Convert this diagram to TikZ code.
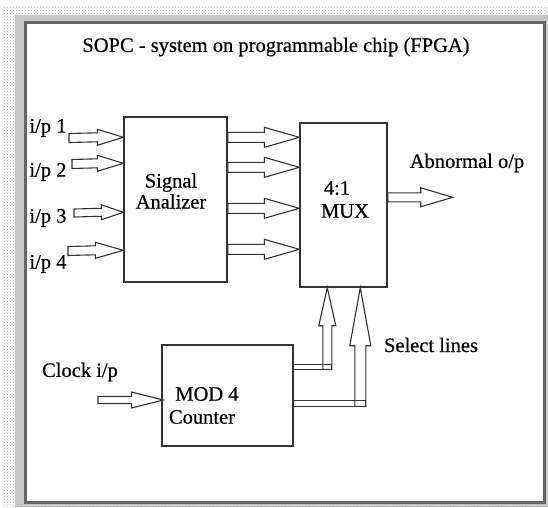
\documentclass[tikz,border=0pt]{standalone}
\usepackage{fontspec}
\setmainfont[FakeBold=0.5]{Liberation Serif}
\usetikzlibrary{calc,patterns}
\newcommand{\harrow}[5]{%
  \draw[blk] ($(#1)+(0,-#3)$) -- ($(#2)+(-#5,-#3)$) -- ($(#2)+(-#5,-#4)$) -- (#2)
    -- ($(#2)+(-#5,#4)$) -- ($(#2)+(-#5,#3)$) -- ($(#1)+(0,#3)$) -- cycle;}
% vertical (upward) arrow: #1 bottom, #2 tip, #3 shaft half, #4 head half, #5 head length
\newcommand{\varrow}[5]{%
  \draw[blk] ($(#1)+(-#3,0)$) -- ($(#2)+(-#3,#5)$) -- ($(#2)+(-#4,#5)$) -- (#2)
    -- ($(#2)+(#4,#5)$) -- ($(#2)+(#3,#5)$) -- ($(#1)+(#3,0)$) -- cycle;}
\begin{document}
\begin{tikzpicture}[x=1pt,y=-1pt,
  box/.style={draw=black!80,line width=1.4pt,minimum width=#1},
  blk/.style={draw=black!80,line width=1.1pt,line join=miter},
  lbl/.style={inner sep=0pt,text=black},
  every node/.style={font=\fontsize{20.5}{24}\selectfont}]
\useasboundingbox (0,0) rectangle (548,507);
% frame
\fill[pattern=crosshatch dots,pattern color=gray!60] (2,6) rectangle (548,507);
\fill[gray!45] (15,15) rectangle (548,507);
\fill[white] (25,22) rectangle (544,502);
\draw[black!60,line width=3pt] (25,22) rectangle (544,502);

\node[lbl] (title) at (276,47) {SOPC - system on programmable chip (FPGA)};

% blocks
\node[box=103pt,minimum height=165pt] (sa) at (175.5,199.5) {};
\node[lbl,align=center] (satext) at (171,191) {Signal\\[-3pt]Analizer};
\node[box=87pt,minimum height=164pt] (mux) at (343.5,205) {};
\node[lbl] (muxa) at (337,188) {4:1};
\node[lbl] (muxb) at (345,211) {MUX};
\node[box=131pt,minimum height=101pt] (cnt) at (227.5,395.5) {};
\node[lbl] (cnta) at (207,394) {MOD 4};
\node[lbl] (cntb) at (202,417) {Counter};

% labels
\node[lbl] (l1) at (48,128) {i/p 1};
\node[lbl] (l2) at (48,172) {i/p 2};
\node[lbl] (l3) at (48,218) {i/p 3};
\node[lbl] (l4) at (48,264) {i/p 4};
\node[lbl] (lab) at (467,163) {Abnormal o/p};
\node[lbl] (lsel) at (431,345) {Select lines};
\node[lbl] (lclk) at (80,372) {Clock i/p};

% input arrows
\coordinate (i1) at (69,138);  \coordinate (e1) at ($(sa.north west)+(0,21)$);
\coordinate (i2) at (72,164);  \coordinate (e2) at ($(sa.north west)+(0,47)$);
\coordinate (i3) at (74,213);  \coordinate (e3) at ($(sa.north west)+(0,96)$);
\coordinate (i4) at (68,251);  \coordinate (e4) at ($(sa.north west)+(0,134)$);
\harrow{i1}{e1}{4.5}{8}{26}
\harrow{i2}{e2}{4.5}{8}{26}
\harrow{i3}{e3}{4}{7.5}{22}
\harrow{i4}{e4}{4.5}{8}{28}

% SA -> MUX
\coordinate (o1) at ($(sa.north east)+(0,21)$);  \coordinate (m1) at ($(mux.north west)+(0,15)$);
\coordinate (o2) at ($(sa.north east)+(0,51)$);  \coordinate (m2) at ($(mux.north west)+(0,45)$);
\coordinate (o3) at ($(sa.north east)+(0,92)$);  \coordinate (m3) at ($(mux.north west)+(0,86)$);
\coordinate (o4) at ($(sa.north east)+(0,133)$); \coordinate (m4) at ($(mux.north west)+(0,127)$);
\harrow{o1}{m1}{5}{10}{35}
\harrow{o2}{m2}{5}{10}{35}
\harrow{o3}{m3}{5}{10}{35}
\harrow{o4}{m4}{5}{10}{35}

% output
\coordinate (oa) at ($(mux.north east)+(0,75)$); \coordinate (ta) at ($(oa)+(65,0)$);
\harrow{oa}{ta}{4.5}{9.5}{32}

% clock
\coordinate (ck) at (98,400); \coordinate (ce) at ($(cnt.west)+(2,4.5)$);
\harrow{ck}{ce}{3.5}{8}{32}

% select lines
\coordinate (s1) at ($(cnt.north east)+(0,22.5)$); \coordinate (t1) at ($(mux.south west)+(28,0)$);
\coordinate (s2) at ($(cnt.north east)+(0,59)$);   \coordinate (t2) at ($(mux.south west)+(61,0)$);
\draw[blk] ($(s1)+(0,-2.5)$) rectangle ($(s1 -| t1)+(4.5,2.5)$);
\varrow{$(s1 -| t1)+(0,2.5)$}{t1}{4.5}{8.5}{38}
\draw[blk] ($(s2)+(0,-3)$) rectangle ($(s2 -| t2)+(5.5,3)$);
\varrow{$(s2 -| t2)+(0,3)$}{t2}{5.5}{10.5}{58}
\end{tikzpicture}
\end{document}
